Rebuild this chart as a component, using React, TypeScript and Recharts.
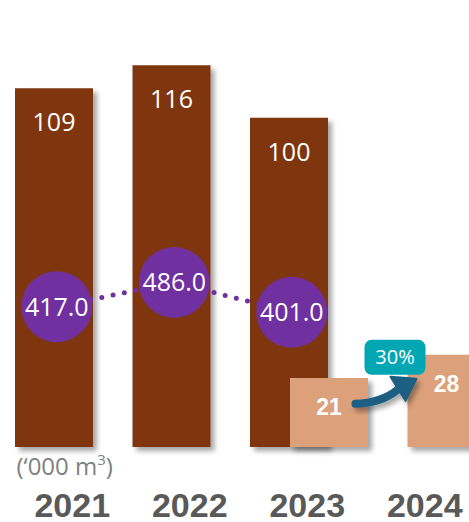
import React from 'react';
import { ComposedChart, Bar, Line, XAxis, YAxis, LabelList, Customized } from 'recharts';

const years = ['2021', '2022', '2023', '2024'];
const brownValues: (number | null)[] = [109, 116, 100, null];
const tanValues: (number | null)[] = [null, null, 21, 28];
const circleValues: (number | null)[] = [417.0, 486.0, 401.0, null];
const growthText = '30%';
const unitText = '(\u2018000 m';
const unitSup = '3';

const data = years.map((y, i) => ({
  year: y,
  brown: brownValues[i],
  tan: tanValues[i],
  circ: circleValues[i],
}));

const lastTan = tanValues[tanValues.length - 1];

const BROWN = '#7F3511';
const TAN = '#DCA07A';
const PURPLE = '#7030A0';
const TEAL = '#00A7B3';
const ARROW = '#1B5E82';

const BrownLabel = (p: any) => {
  const { x, y, width, value } = p;
  if (value == null) return null;
  return (
    <text x={Number(x) + Number(width) / 2} y={Number(y) + 43} textAnchor="middle" fill="#fff" fontSize={25} fontFamily="Open Sans">
      {value}
    </text>
  );
};

const TanLabel = (p: any) => {
  const { x, y, width, value } = p;
  if (value == null) return null;
  const X = Number(x);
  const Y = Number(y);
  const isLast = Number(value) === lastTan;
  return (
    <g>
      <text x={X + Number(width) / 2} y={Y + 37} textAnchor="middle" fill="#fff" fontSize={23} fontWeight="bold" fontFamily="Liberation Sans, Arial">
        {value}
      </text>
      {isLast && (
        <g>
          <g filter="url(#arrowShadow)">
            <path d={`M ${X - 52} ${Y + 49} Q ${X - 26} ${Y + 48} ${X - 10} ${Y + 35}`} stroke={ARROW} strokeWidth={8} fill="none" strokeLinecap="round" />
            <polygon points={`${X - 17},${Y + 22} ${X - 2},${Y + 46} ${X + 9},${Y + 24}`} fill={ARROW} stroke={ARROW} strokeWidth={2} strokeLinejoin="round" />
          </g>
          <rect x={X - 43} y={Y - 15} width={61} height={35} rx={7} fill={TEAL} />
          <text x={X - 12.5} y={Y + 9.5} textAnchor="middle" fill="#fff" fontSize={20} fontFamily="Open Sans">
            {growthText}
          </text>
        </g>
      )}
    </g>
  );
};

const CircleDot = (p: any) => {
  const { cx, cy, value, index } = p;
  if (value == null || cx == null || cy == null) return <g key={`d${index}`} />;
  return (
    <g key={`d${index}`}>
      <circle cx={cx} cy={cy} r={35.5} fill={PURPLE} />
      <text x={cx} y={cy + 9} textAnchor="middle" fill="#fff" fontSize={25} fontFamily="Open Sans">
        {Number(value).toFixed(1)}
      </text>
    </g>
  );
};

const YearTick = (p: any) => {
  const { x, y, payload } = p;
  return (
    <text x={Number(x) + 18.5} y={Number(y) + 62} textAnchor="middle" fill="#595959" fontSize={34} fontWeight="bold" fontFamily="Liberation Sans, Arial">
      {payload.value}
    </text>
  );
};

const UnitText = () => (
  <text x={16.5} y={474.5} fill="#808080" fontSize={24} fontFamily="Open Sans">
    {unitText}
    <tspan fontSize={15} dy={-10}>{unitSup}</tspan>
    <tspan dy={10}>)</tspan>
  </text>
);

export default function App() {
  return (
    <div style={{ position: 'absolute', left: 0, top: 0, width: 469, height: 522, overflow: 'hidden', background: '#fff' }}>
      <svg width={0} height={0} style={{ position: 'absolute' }}>
        <defs>
          <filter id="barShadow" x="-20%" y="-20%" width="150%" height="150%">
            <feDropShadow dx={4} dy={4} stdDeviation={2.5} floodColor="#000" floodOpacity={0.35} />
          </filter>
          <filter id="arrowShadow" x="-30%" y="-30%" width="170%" height="170%">
            <feDropShadow dx={3} dy={4} stdDeviation={2.5} floodColor="#000" floodOpacity={0.35} />
          </filter>
        </defs>
      </svg>
      <ComposedChart width={469} height={522} data={data} margin={{ top: 52, right: 4, bottom: 0, left: -5 }}>
        <XAxis xAxisId="a" dataKey="year" axisLine={false} tickLine={false} height={75} tick={<YearTick />} interval={0} />
        <XAxis xAxisId="b" dataKey="year" hide padding={{ left: 40, right: -40 }} />
        <XAxis xAxisId="c" dataKey="year" hide padding={{ left: 3, right: -3 }} />
        <YAxis yAxisId="l" hide domain={[0, 120]} />
        <YAxis yAxisId="r" hide domain={[17, 1143]} />
        <Bar xAxisId="a" yAxisId="l" dataKey="brown" fill={BROWN} barSize={78} isAnimationActive={false} filter="url(#barShadow)">
          <LabelList dataKey="brown" content={<BrownLabel />} />
        </Bar>
        <Bar xAxisId="b" yAxisId="l" dataKey="tan" fill={TAN} barSize={78} isAnimationActive={false} filter="url(#barShadow)">
          <LabelList dataKey="tan" content={<TanLabel />} />
        </Bar>
        <Line
          xAxisId="c"
          yAxisId="r"
          dataKey="circ"
          stroke={PURPLE}
          strokeWidth={5}
          strokeDasharray="0 11.5"
          strokeLinecap="round"
          isAnimationActive={false}
          dot={(props: any) => <CircleDot {...props} />}
          activeDot={false}
        />
        <Customized component={UnitText} />
      </ComposedChart>
    </div>
  );
}
